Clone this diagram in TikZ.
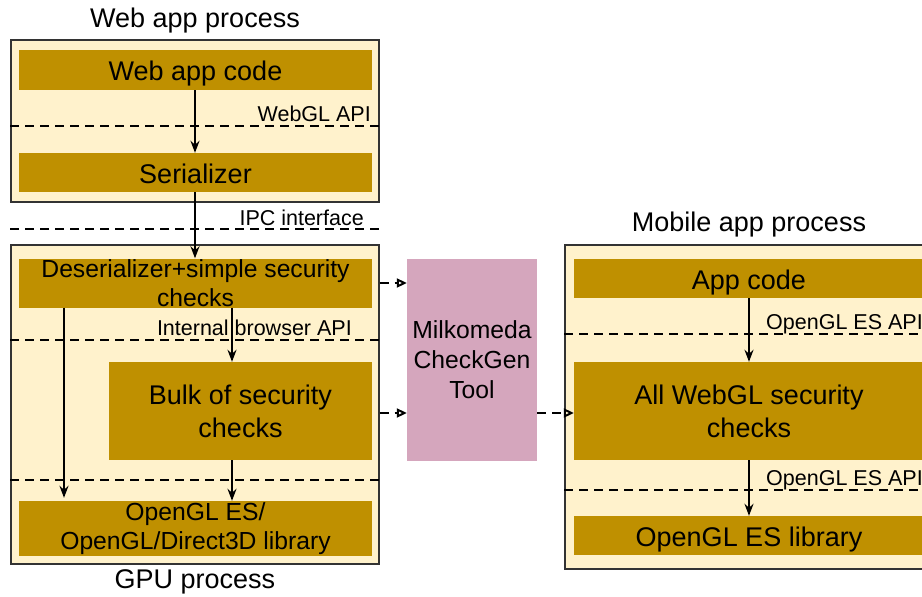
\documentclass[tikz,border=0pt]{standalone}
\usepackage{fontspec}
\setmainfont{Liberation Sans}
\usetikzlibrary{arrows.meta}
\definecolor{cream}{HTML}{FFF2CC}
\definecolor{gold}{HTML}{BF9000}
\definecolor{pinkbox}{HTML}{D5A6BD}
\definecolor{edge}{HTML}{333333}
\begin{document}
\begin{tikzpicture}[x=1pt,y=-1pt,
  procbox/.style={draw=edge,line width=1.3pt,fill=cream,minimum width=#1,inner sep=0pt},
  layer/.style={fill=gold,inner sep=0pt,align=center,text=black},
  oneline/.style={text height=21pt,text depth=0pt},
  big/.style={font=\fontsize{27}{33}\selectfont},
  mid/.style={font=\fontsize{24.7}{29}\selectfont},
  small/.style={font=\fontsize{21.5}{25}\selectfont,inner sep=0pt},
  divider/.style={line width=2pt,dash pattern=on 9pt off 6pt},
  flow/.style={line width=2pt,-{Stealth[length=12pt,width=9pt,inset=4pt]}},
  gen/.style={line width=2pt,dash pattern=on 9pt off 6pt,-{Triangle[open,length=10pt,width=9pt]}}
]
\useasboundingbox (0,0) rectangle (922,597);
\clip (0,0) rectangle (922,597);

% Web app process
\node[big,inner sep=0pt,anchor=base] (tweb) at (195,27.5) {Web app process};
\node[procbox=368pt,minimum height=162pt] (webbox) at (195,121) {};
\node[layer,big,oneline,minimum width=353pt,minimum height=40pt] (webcode) at (195.5,70) {Web app code};
\node[layer,big,oneline,minimum width=353pt,minimum height=39pt] (serial) at (195.5,172.5) {Serializer};
\node[small,anchor=base east] (lwebgl) at (371,121.5) {WebGL API};
\draw[divider] (webbox.west |- 0,126) -- (webbox.east |- 0,126);
\node[small,anchor=base east] (lipc) at (364,225) {IPC interface};
\draw[divider] (webbox.west |- 0,229) -- (webbox.east |- 0,229);

% GPU process
\node[procbox=368pt,minimum height=319pt] (gpubox) at (195,404.5) {};
\node[layer,mid,minimum width=353pt,minimum height=49pt] (deser) at (195.5,283) {Deserializer+simple security\\checks};
\node[layer,big,minimum width=263pt,minimum height=98pt] (bulk) at (240.5,411) {Bulk of security\\checks};
\node[layer,mid,minimum width=353pt,minimum height=55pt] (gllib) at (195.5,528.5) {OpenGL ES/\\OpenGL/Direct3D library};
\node[big,inner sep=0pt,anchor=base] (tgpu) at (195,588) {GPU process};
\node[small,anchor=base east] (lint) at (352,335.5) {Internal browser API};
\draw[divider] (gpubox.west |- 0,340) -- (gpubox.east |- 0,340);
\draw[divider] (gpubox.west |- 0,480) -- (gpubox.east |- 0,480);

% Milkomeda
\node[fill=pinkbox,minimum width=130pt,minimum height=202pt,inner sep=0pt,align=center,font=\fontsize{24.7}{30}\selectfont] (milk) at (472,360) {Milkomeda\\CheckGen\\Tool};

% Mobile app process
\node[big,inner sep=0pt,anchor=base] (tmob) at (749,231.5) {Mobile app process};
\node[procbox=367pt,minimum height=324pt] (mobbox) at (748.5,407) {};
\node[layer,big,oneline,minimum width=350pt,minimum height=39pt] (appcode) at (749,278.5) {App code};
\node[layer,big,minimum width=350pt,minimum height=98pt] (allweb) at (749,411) {All WebGL security\\checks};
\node[layer,big,oneline,minimum width=350pt,minimum height=39pt] (esl) at (749,535.5) {OpenGL ES library};
\node[small,anchor=base west] (les1) at (766,329.5) {OpenGL ES API};
\node[small,anchor=base west] (les2) at (766,485) {OpenGL ES API};
\draw[divider] (mobbox.west |- 0,334) -- (mobbox.east |- 0,334);
\draw[divider] (mobbox.west |- 0,490) -- (mobbox.east |- 0,490);

% helper positions
\coordinate (xa) at (195,0);
\coordinate (xl) at (64,0);
\coordinate (xm) at (232,0);
\coordinate (ya) at (0,283);
\coordinate (yb) at (0,413);

% solid flow arrows
\draw[flow] (webcode.south -| xa) -- (serial.north -| xa);
\draw[flow] (serial.south -| xa) -- (deser.north -| xa);
\draw[flow,shorten >=3pt] (deser.south -| xl) -- (gllib.north -| xl);
\draw[flow] (deser.south -| xm) -- (bulk.north -| xm);
\draw[flow] (bulk.south -| xm) -- (gllib.north -| xm);
\draw[flow] (appcode.south) -- (allweb.north);
\draw[flow] (allweb.south) -- (esl.north);

% dashed generator arrows
\draw[gen] (gpubox.east |- ya) -- (milk.west |- ya);
\draw[gen] (gpubox.east |- yb) -- (milk.west |- yb);
\draw[gen] (milk.east |- yb) -- (allweb.west |- yb);
\end{tikzpicture}
\end{document}
